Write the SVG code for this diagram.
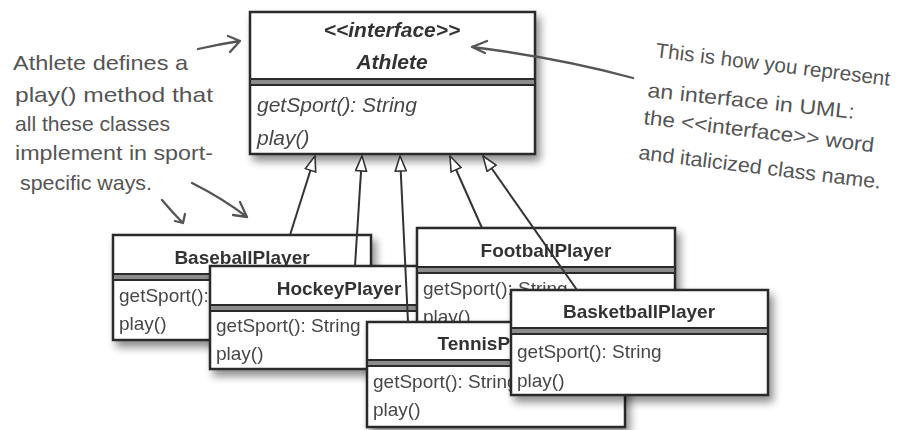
<svg xmlns="http://www.w3.org/2000/svg" width="903" height="430" viewBox="0 0 903 430">
<defs>
<filter id="sh" x="-10%" y="-10%" width="130%" height="140%">
<feGaussianBlur in="SourceAlpha" stdDeviation="4"/>
<feOffset dx="4" dy="6" result="b"/>
<feComponentTransfer><feFuncA type="linear" slope="0.45"/></feComponentTransfer>
<feMerge><feMergeNode/><feMergeNode in="SourceGraphic"/></feMerge>
</filter>
<marker id="tri" viewBox="0 0 17 13" refX="16" refY="6.5" markerWidth="17" markerHeight="13" markerUnits="userSpaceOnUse" orient="auto">
<path d="M1,1 L16,6.5 L1,12 Z" fill="#fff" stroke="#333" stroke-width="1.6" stroke-linejoin="miter"/>
</marker>
<style>
.frame{fill:#fff;stroke:#2b2b2b;stroke-width:2.5}
.dv{fill:#8c8c8c;stroke:#2b2b2b;stroke-width:2}
.t{font-family:"Liberation Sans",Arial,sans-serif;font-weight:bold;font-size:19px;fill:#333;text-anchor:middle}
.m{font-family:"Liberation Sans",Arial,sans-serif;font-size:19px;fill:#474747}
.it{font-family:"Liberation Sans",Arial,sans-serif;font-style:italic;font-weight:bold;font-size:21px;fill:#333;text-anchor:middle}
.im{font-family:"Liberation Sans",Arial,sans-serif;font-style:italic;font-size:21px;fill:#474747}
.note{font-family:"Liberation Sans",Arial,sans-serif;font-size:21px;fill:#555}
.nr{font-size:20.5px}
.conn line{stroke:#333;stroke-width:2;marker-end:url(#tri)}
.hand{stroke:#555;stroke-width:2.3;fill:none;stroke-linecap:round;stroke-linejoin:round}
</style>
</defs>
<rect width="903" height="430" fill="#fff"/>

<g id="note-left">
<text class="note" x="13" y="70" textLength="175" lengthAdjust="spacingAndGlyphs">Athlete defines a</text>
<text class="note" x="15" y="102" textLength="198" lengthAdjust="spacingAndGlyphs">play() method that</text>
<text class="note" x="15" y="131" textLength="155" lengthAdjust="spacingAndGlyphs">all these classes</text>
<text class="note" x="15" y="160" textLength="198" lengthAdjust="spacingAndGlyphs">implement in sport-</text>
<text class="note" x="20" y="190" textLength="132" lengthAdjust="spacingAndGlyphs">specific ways.</text>
<path class="hand" d="M198,49 Q220,44 240,41 M228,36 L240,41 L230,52"/>
<path class="hand" d="M162,200 Q172,212 183,223 M175,221 L183,223 L185,214"/>
<path class="hand" d="M192,183 Q222,198 247,217 M240,202 L247,217 L233,215"/>
</g>

<g id="athlete" filter="url(#sh)">
<rect class="frame" x="250" y="12" width="285" height="142"/>
<rect class="dv" x="250" y="79" width="285" height="6"/>
<text class="it" x="392" y="37">&lt;&lt;interface&gt;&gt;</text>
<text class="it" x="392" y="69">Athlete</text>
<text class="im" x="257" y="112">getSport(): String</text>
<text class="im" x="257" y="145">play()</text>
</g>

<g id="note-right">
<text class="note nr" x="655" y="57" transform="rotate(7 655 57)" textLength="236" lengthAdjust="spacingAndGlyphs">This is how you represent</text>
<text class="note nr" x="647" y="97" transform="rotate(6 647 97)" textLength="208" lengthAdjust="spacingAndGlyphs">an interface in UML:</text>
<text class="note nr" x="643" y="124" transform="rotate(7 643 124)" textLength="232" lengthAdjust="spacingAndGlyphs">the &lt;&lt;interface&gt;&gt; word</text>
<text class="note nr" x="638" y="159" transform="rotate(7 638 159)" textLength="244" lengthAdjust="spacingAndGlyphs">and italicized class name.</text>
<path class="hand" d="M633,78 Q560,58 472,47 M487,41 L472,47 L485,53"/>
</g>

<g id="baseball" filter="url(#sh)">
<rect class="frame" x="113" y="235" width="258" height="105"/>
<rect class="dv" x="113" y="274" width="258" height="6"/>
<text class="t" x="242" y="264">BaseballPlayer</text>
<text class="m" x="119" y="302">getSport(): String</text>
<text class="m" x="119" y="330">play()</text>
</g>

<g id="hockey" filter="url(#sh)">
<rect class="frame" x="210" y="266" width="258" height="103"/>
<rect class="dv" x="210" y="305" width="258" height="6"/>
<text class="t" x="339" y="295">HockeyPlayer</text>
<text class="m" x="216" y="332">getSport(): String</text>
<text class="m" x="216" y="360">play()</text>
</g>

<g id="football" filter="url(#sh)">
<rect class="frame" x="417" y="228" width="258" height="105"/>
<rect class="dv" x="417" y="267" width="258" height="6"/>
<text class="t" x="546" y="257">FootballPlayer</text>
<text class="m" x="423" y="295">getSport(): String</text>
<text class="m" x="423" y="323">play()</text>
</g>

<g id="tennis" filter="url(#sh)">
<rect class="frame" x="367" y="322" width="258" height="105"/>
<rect class="dv" x="367" y="360" width="258" height="6"/>
<text class="t" x="496" y="350">TennisPlayer</text>
<text class="m" x="373" y="388">getSport(): String</text>
<text class="m" x="373" y="416">play()</text>
</g>

<g id="basketball" filter="url(#sh)">
<rect class="frame" x="511" y="290" width="257" height="105"/>
<rect class="dv" x="511" y="328" width="257" height="6"/>
<text class="t" x="639" y="318">BasketballPlayer</text>
<text class="m" x="517" y="358">getSport(): String</text>
<text class="m" x="517" y="387">play()</text>
</g>

<g id="connectors" class="conn">
<line x1="290" y1="235" x2="315" y2="156"/>
<line x1="355" y1="266" x2="362" y2="156"/>
<line x1="408" y1="322" x2="400" y2="156"/>
<line x1="482" y1="228" x2="450" y2="156"/>
<line x1="577" y1="290" x2="483" y2="156"/>
</g>
</svg>
